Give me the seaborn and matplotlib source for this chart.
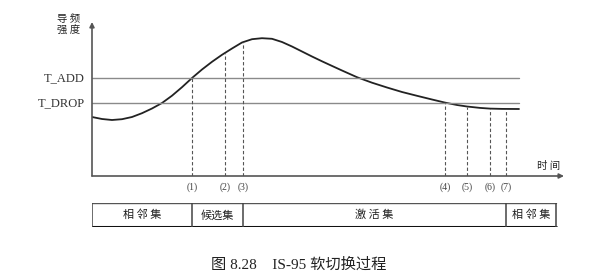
import numpy as np
import pandas as pd
import matplotlib
matplotlib.use("Agg")
import matplotlib.pyplot as plt
import seaborn as sns

# ---- data ----
time_pts = [0, 10, 20, 30, 40, 50, 60, 70, 80, 90, 100, 110, 120, 130, 140,
            150, 160, 170, 180, 190, 200, 210, 220, 230, 238, 250, 265, 280,
            295, 310, 325, 340, 353, 365, 375, 388, 398, 410, 427]
pilot_pts = [59, 57, 56, 56.8, 59, 62.8, 67.5, 73, 80.3, 88.8, 98, 106.5,
             114.2, 121.2, 127.5, 133.5, 136.8, 137.8, 137.2, 134, 129.5,
             124.5, 119.5, 114.7, 111, 105.5, 98.8, 93.3, 88.5, 84, 80.2,
             76.5, 73.4, 71, 69.5, 68.1, 67.4, 67.1, 67]
t_add = 98
t_drop = 73
event_labels = ["(1)", "(2)", "(3)", "(4)", "(5)", "(6)", "(7)"]
event_times = [100, 133, 151, 353, 375, 398, 414]
set_names = ["相 邻 集", "候选集", "激 活 集", "相 邻 集"]
set_bounds = [0, 100, 151, 414, 464]
threshold_labels = ["T_ADD", "T_DROP"]
y_label = "导 频\n强 度"
x_label = "时 间"
caption = "图 8.28    IS-95 软切换过程"

sns.set_style("white")
plt.rcParams['font.family'] = ['Liberation Serif', 'Noto Sans CJK SC', 'DejaVu Sans']

W, H = 598, 280
fig = plt.figure(figsize=(W / 100, H / 100), dpi=100)
ax_left = 92 / W
ax_w = 472 / W
ax = fig.add_axes([ax_left, 1 - 176 / H, ax_w, 154 / H])
ax.set_xlim(0, 472)
ax.set_ylim(0, 154)
ax.axis("off")

df = pd.DataFrame({"time": time_pts, "pilot": pilot_pts})
sns.lineplot(data=df, x="time", y="pilot", ax=ax, color="#222222", lw=1.3,
             sort=False, legend=False)

# thresholds
curve_end = time_pts[-1]
for val, lab in zip([t_add, t_drop], threshold_labels):
    ax.plot([0, curve_end], [val, val], color="#8a8a8a", lw=1.0)
    ax.annotate(lab, xy=(0, val), xytext=(-7, 0), textcoords="offset pixels",
                ha="right", va="center", fontsize=9, color="#333333",
                family=["Liberation Serif"])

# event dashed lines and labels
for t, lab in zip(event_times, event_labels):
    top = np.interp(t, time_pts, pilot_pts)
    ax.plot([t, t], [0, top], color="#555555", lw=0.8, ls=(0, (3, 2)))
    ax.annotate(lab, xy=(t, 0), xytext=(0, -11), textcoords="offset pixels",
                ha="center", va="center", fontsize=7, color="#444444",
                family=["Liberation Serif"])

# axes with arrows
ax.annotate("", xy=(472, 0), xytext=(0, 0),
            arrowprops=dict(arrowstyle="-|>", color="#555555", lw=1.2,
                            mutation_scale=7, shrinkA=0, shrinkB=0))
ax.annotate("", xy=(0, 154), xytext=(0, 0),
            arrowprops=dict(arrowstyle="-|>", color="#555555", lw=1.2,
                            mutation_scale=7, shrinkA=0, shrinkB=0))

fig.text(69 / W, 1 - 25 / H, y_label, ha="center", va="center", fontsize=7.5,
         linespacing=1.3, color="#222222", family=["Noto Sans CJK SC"])
fig.text(549 / W, 1 - 166 / H, x_label, ha="center", va="center", fontsize=7.5,
         color="#222222", family=["Noto Sans CJK SC"])

# table of sets
tax = fig.add_axes([ax_left, 1 - 227 / H, ax_w, 24 / H], sharex=ax)
tax.set_ylim(0, 1)
tax.axis("off")
tax.plot([set_bounds[0], set_bounds[-1]], [1, 1], color="#555555", lw=1.0)
tax.plot([set_bounds[0], set_bounds[-1]], [0, 0], color="#111111", lw=2.2)
for b in set_bounds:
    tax.plot([b, b], [0, 1], color="#444444", lw=1.1)
for i, name in enumerate(set_names):
    mid = (set_bounds[i] + set_bounds[i + 1]) / 2
    tax.text(mid, 0.5, name, ha="center", va="center", fontsize=8,
             color="#222222", family=["Noto Sans CJK SC"])

fig.text(0.5, 1 - 265 / H, caption, ha="center", va="center", fontsize=11,
         color="#222222")

fig.savefig("out.png", dpi=100, facecolor="white")
